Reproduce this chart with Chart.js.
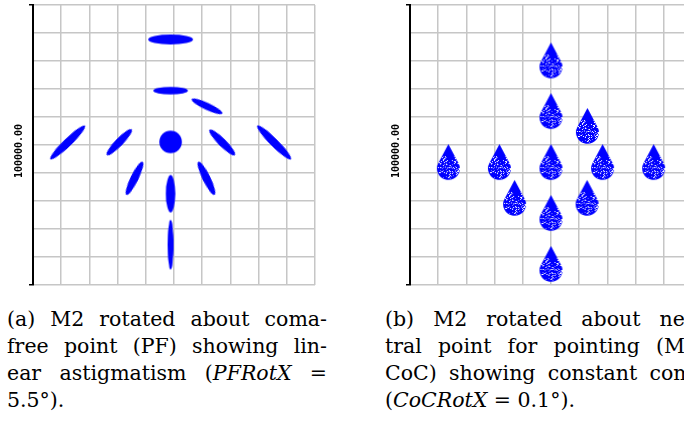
<!DOCTYPE html>
<html>
<head>
<meta charset="utf-8">
<script src="https://cdn.jsdelivr.net/npm/chart.js@4/dist/chart.umd.min.js"></script>
<style>
  body { margin: 0; width: 684px; height: 423px; overflow: hidden; background: #fff; position: relative; }
  canvas { position: absolute; top: 0; }
  .cap { position: absolute; width: 320px; font-family: 'DejaVu Serif', serif; font-size: 20.5px; line-height: 27px; color: #000; }
  .cap span { display: block; text-align: justify; text-align-last: justify; white-space: nowrap; }
  .cap span.last { text-align: left; text-align-last: left; }
</style>
</head>
<body>
<canvas id="pf" width="320" height="290" style="left:0"></canvas>
<canvas id="coc" width="320" height="290" style="left:377px"></canvas>

<div class="cap" style="left:7px; top:306px">
  <span>(a) M2 rotated about coma-</span>
  <span>free point (PF) showing lin-</span>
  <span>ear astigmatism (<i>PFRotX</i> =</span>
  <span class="last">5.5°).</span>
</div>
<div class="cap" style="left:385px; top:306px">
  <span>(b) M2 rotated about neu-</span>
  <span>tral point for pointing (M2-</span>
  <span>CoC) showing constant coma</span>
  <span class="last">(<i>CoCRotX</i> = 0.1°).</span>
</div>

<script>
// axis: 10 x 10 grid, one label on the vertical axis
const gridMin = 0;
const gridMax = 10;
const axisLabel = '100000.00';

// (a) PF rotation: spot centres, long/short axis (grid units), tilt in degrees (counter-clockwise)
const pfX     = [4.88, 4.88, 6.17, 4.88, 1.23, 3.06, 6.71, 8.55, 3.60, 6.15, 4.88, 4.88];
const pfY     = [8.77, 6.94, 6.38, 5.11, 5.09, 5.10, 5.09, 5.09, 3.81, 3.81, 3.26, 1.44];
const pfMajor = [1.59, 1.23, 1.20, 0.80, 1.71, 1.27, 1.27, 1.69, 1.31, 1.31, 1.33, 1.76];
const pfMinor = [0.35, 0.27, 0.25, 0.80, 0.28, 0.28, 0.28, 0.28, 0.28, 0.28, 0.33, 0.21];
const pfTilt  = [0, 0, -25, 0, 44, 46, -45, -45, 64, -64, 90, 90];

// (b) CoC rotation: teardrop spot centres and size (grid units)
const cocX      = [5.00, 5.00, 6.29, 1.36, 3.17, 5.00, 6.83, 8.64, 3.71, 6.28, 5.00, 5.00];
const cocY      = [8.02, 6.21, 5.68, 4.39, 4.39, 4.39, 4.39, 4.39, 3.11, 3.11, 2.57, 0.75];
const cocWidth  = [0.81, 0.81, 0.81, 0.81, 0.81, 0.81, 0.81, 0.81, 0.81, 0.81, 0.81, 0.81];
const cocHeight = [1.27, 1.27, 1.27, 1.27, 1.27, 1.27, 1.27, 1.27, 1.27, 1.27, 1.27, 1.27];

const spotColor = '#0000ff';

function pxPerUnit(chart) {
    const sx = chart.scales && chart.scales.x;
    if (!sx) return 28.3;
    const d = sx.getPixelForValue(1) - sx.getPixelForValue(0);
    return isFinite(d) && d > 0 ? d : 28.3;
}

function ellipseImage(w, h) {
    const c = document.createElement('canvas');
    c.width = Math.ceil(w) + 2;
    c.height = Math.ceil(h) + 2;
    const g = c.getContext('2d');
    g.fillStyle = spotColor;
    g.beginPath();
    g.ellipse(c.width / 2, c.height / 2, w / 2, h / 2, 0, 0, Math.PI * 2);
    g.fill();
    return c;
}

function speckle(x, y) {
    let h = Math.imul(x, 374761393) + Math.imul(y, 668265263);
    h = Math.imul(h ^ (h >>> 13), 1274126177);
    return ((h ^ (h >>> 16)) >>> 0) / 4294967296;
}

function dropImage(w, h) {
    const c = document.createElement('canvas');
    c.width = Math.ceil(w) + 2;
    c.height = Math.ceil(h) + 2;
    const g = c.getContext('2d');
    const r = w / 2, cx = c.width / 2, tipY = 1, cy = 1 + h - r;
    const beta = Math.acos(r / (cy - tipY));
    g.fillStyle = spotColor;
    g.beginPath();
    g.moveTo(cx, tipY);
    g.arc(cx, cy, r, -Math.PI / 2 + beta, 3 * Math.PI / 2 - beta);
    g.closePath();
    g.fill();
    const img = g.getImageData(0, 0, c.width, c.height);
    for (let y = 0; y < c.height; y++) {
        if (y < cy - r * 1.1) continue;
        for (let x = 0; x < c.width; x++) {
            const k = (y * c.width + x) * 4;
            if (img.data[k + 3] < 200) continue;
            const s = speckle(x, y);
            if (s < 0.13) { img.data[k] = 255; img.data[k + 1] = 255; }
            else if (s < 0.22) { img.data[k] = 120; img.data[k + 1] = 120; }
        }
    }
    g.putImageData(img, 0, 0);
    return c;
}

function panel(id, dataset) {
    return new Chart(document.getElementById(id), {
        type: 'scatter',
        data: { datasets: [dataset] },
        options: {
            responsive: false,
            animation: false,
            events: [],
            layout: { padding: { top: 2, right: 4, bottom: 4, left: 0 } },
            plugins: { legend: { display: false }, tooltip: { enabled: false } },
            scales: {
                x: {
                    min: gridMin, max: gridMax,
                    ticks: { display: false, stepSize: 1 },
                    grid: { color: '#c6c6c6', lineWidth: 1.5, drawTicks: false },
                    border: { display: false },
                    afterFit: s => { s.height = 0; }
                },
                y: {
                    min: gridMin, max: gridMax,
                    ticks: { display: false, stepSize: 1 },
                    grid: {
                        color: '#c6c6c6', lineWidth: 1.5, tickLength: 4, tickWidth: 1.5,
                        tickColor: c => (c.tick && (c.tick.value === gridMin || c.tick.value === gridMax)) ? '#000' : 'rgba(0,0,0,0)'
                    },
                    border: { color: '#000', width: 2 },
                    title: {
                        display: true, text: axisLabel + '  ', color: '#000',
                        font: { family: 'DejaVu Sans Mono', size: 10, weight: 'bold' },
                        padding: { top: 13, bottom: 0 }
                    },
                    afterFit: s => { s.width = 33; }
                }
            }
        }
    });
}

panel('pf', {
    data: pfX.map((x, i) => ({ x: x, y: pfY[i] })),
    pointRadius: 3,
    rotation: ctx => ctx.type === 'data' ? -pfTilt[ctx.dataIndex] : 0,
    pointStyle: ctx => {
        if (ctx.type !== 'data') return 'circle';
        const k = pxPerUnit(ctx.chart), i = ctx.dataIndex;
        return ellipseImage(pfMajor[i] * k, pfMinor[i] * k);
    }
});

panel('coc', {
    data: cocX.map((x, i) => ({ x: x, y: cocY[i] })),
    pointRadius: 3,
    pointStyle: ctx => {
        if (ctx.type !== 'data') return 'circle';
        const k = pxPerUnit(ctx.chart), i = ctx.dataIndex;
        return dropImage(cocWidth[i] * k, cocHeight[i] * k);
    }
});
</script>
</body>
</html>
